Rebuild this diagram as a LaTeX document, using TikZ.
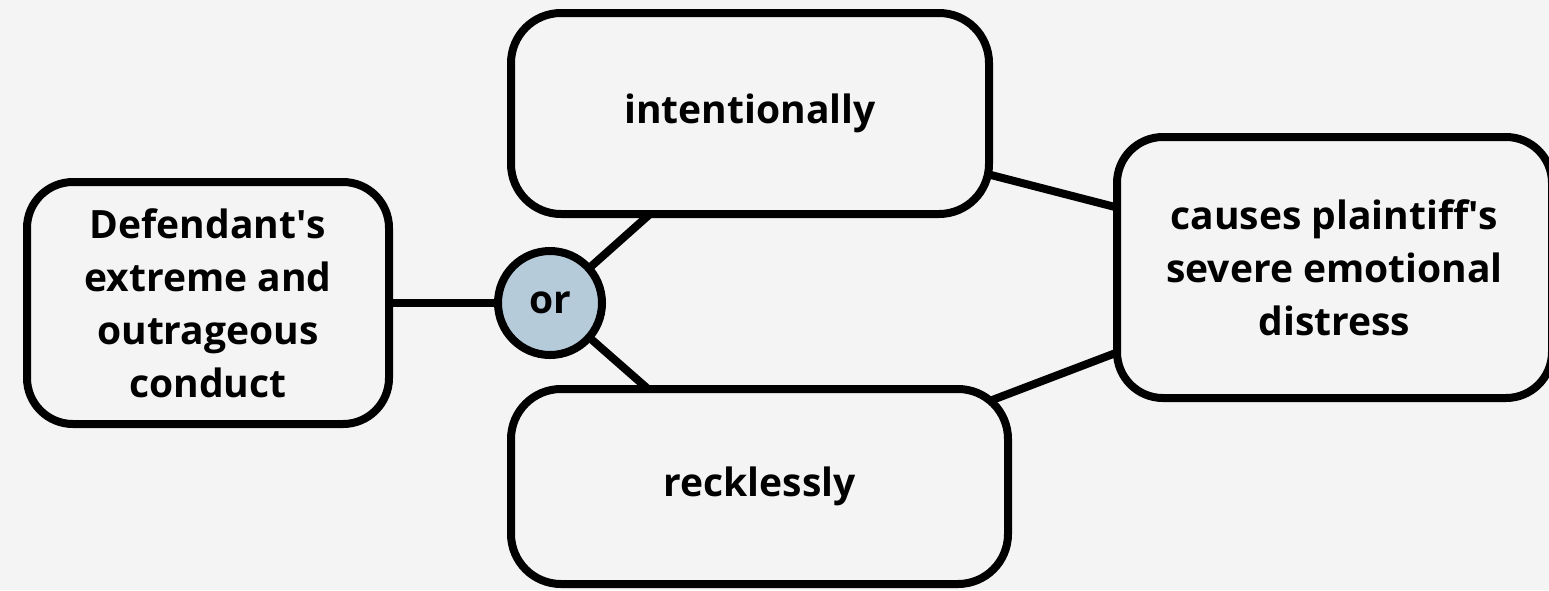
\documentclass[tikz,border=0pt]{standalone}
\usepackage{fontspec}
\setmainfont{Open Sans}
\usetikzlibrary{calc,backgrounds}

\definecolor{paper}{HTML}{F4F4F4}
\definecolor{orfill}{HTML}{B6CBDA}

\begin{document}
\begin{tikzpicture}[x=1pt,y=-1pt,
  label font/.style={font=\fontsize{39}{53}\selectfont\bfseries},
  box/.style={draw=black, line width=8pt, fill=paper, rounded corners=46pt,
    inner sep=0pt, outer sep=0pt, align=center, label font},
  orbubble/.style={circle, draw=black, line width=8pt, fill=orfill,
    minimum size=104pt, inner sep=0pt, outer sep=0pt, label font},
  link/.style={draw=black, line width=8pt}]

\useasboundingbox (0,0) rectangle (1549,590);

% boxes
\node[box, minimum width=362pt, minimum height=242pt] (conduct) at (208,303)
  {Defendant\textquotesingle s\\extreme and\\outrageous\\conduct};
\node[orbubble] (or) at (550,303) {or};
\node[box, minimum width=478pt, minimum height=201pt, rounded corners=50pt] (intent) at (750,113.5)
  {intentionally};
\node[box, minimum width=497pt, minimum height=195pt, rounded corners=50pt] (reck) at (759.5,486.5)
  {recklessly};
\node[box, minimum width=435pt, minimum height=261pt] (harm) at (1334.5,267.5)
  {causes plaintiff\textquotesingle s\\severe emotional\\distress};

% page and connectors, kept behind the filled boxes
\begin{scope}[on background layer]
  \fill[paper] (0,0) rectangle (1549,590);
  \draw[link] (conduct) -- (or);
  \draw[link] (or) -- ([xshift=139pt]intent.south west);
  \draw[link] (or) -- ([xshift=137pt]reck.north west);
  \draw[link] ([yshift=-61pt]intent.east) -- ([yshift=60pt]harm.west);
  \draw[link] ([xshift=-21pt,yshift=-13pt]reck.north east) -- ([yshift=-85pt]harm.west);
\end{scope}
\end{tikzpicture}
\end{document}
